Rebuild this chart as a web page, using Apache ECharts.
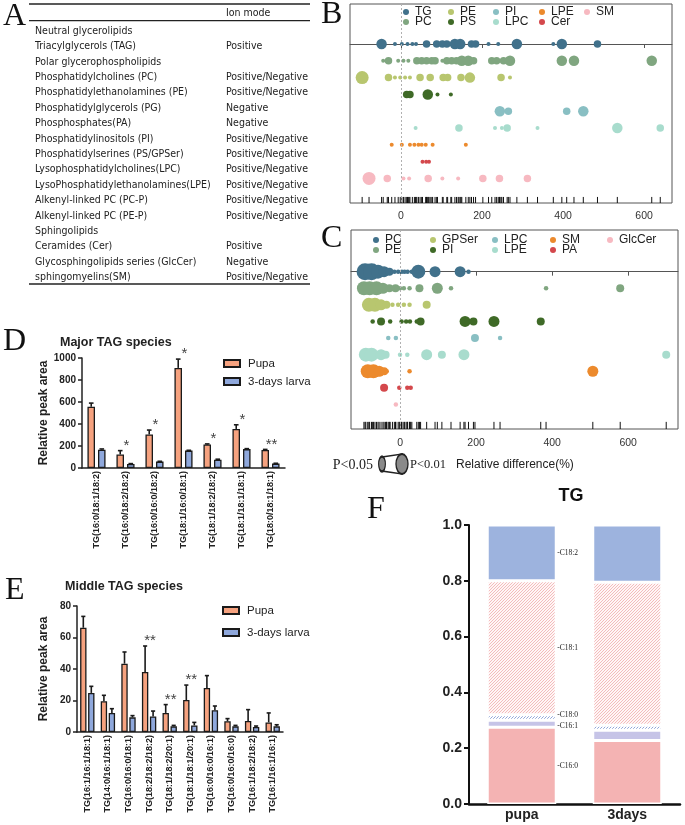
<!DOCTYPE html>
<html><head><meta charset="utf-8">
<script src="https://cdn.jsdelivr.net/npm/echarts@6/dist/echarts.min.js"></script>
<style>
html,body{margin:0;padding:0;background:#fff;}
#wrap{position:relative;width:685px;height:825px;overflow:hidden;}
.pane{position:absolute;left:0;top:0;width:685px;height:825px;}
</style></head><body>
<div id="wrap">
<div class="pane" id="pA"></div>
<div class="pane" id="pB"></div>
<div class="pane" id="pC"></div>
<div class="pane" id="pD"></div>
<div class="pane" id="pE"></div>
<div class="pane" id="pF"></div>
</div>
<script>
// ---------------- DATA ----------------
// Panel A table
const tableLipids = ['Neutral glycerolipids','Triacylglycerols (TAG)','Polar glycerophospholipids','Phosphatidylcholines (PC)','Phosphatidylethanolamines (PE)','Phosphatidylglycerols (PG)','Phosphosphates(PA)','Phosphatidylinositols (PI)','Phosphatidylserines (PS/GPSer)','Lysophosphatidylcholines(LPC)','LysoPhosphatidylethanolamines(LPE)','Alkenyl-linked PC (PC-P)','Alkenyl-linked PC (PE-P)','Sphingolipids','Ceramides (Cer)','Glycosphingolipids series (GlcCer)','sphingomyelins(SM)'];
const tableIonModes = ['','Positive','','Positive/Negative','Positive/Negative','Negative','Negative','Positive/Negative','Positive/Negative','Positive/Negative','Positive/Negative','Positive/Negative','Positive/Negative','','Positive','Negative','Positive/Negative'];

// Panel B: relative difference (%) and significance level (bubble class)
const classesB = ['TG','PC','PE','PS','PI','LPC','LPE','Cer','SM'];
const bTG  = [[-48,3],[-15,1],[2,1],[16,1],[28,1],[37,1],[63,2],[88,2],[102,2],[113,2],[133,3],[146,3],[174,2],[184,2],[216,1],[240,1],[286,3],[376,1],[397,3],[485,2]];
const bPC  = [[-44,1],[-31,2],[-7,1],[6,1],[18,1],[39,2],[51,2],[63,2],[76,2],[84,2],[102,1],[113,2],[125,2],[137,2],[150,3],[166,3],[179,2],[224,2],[236,2],[253,2],[269,3],[397,3],[427,3],[619,3]];
const bPE  = [[-96,4],[-31,2],[-15,1],[-2,1],[10,1],[22,1],[47,2],[72,2],[104,2],[115,2],[148,2],[170,3],[247,2],[269,1]];
const bPS  = [[14,2],[22,2],[66,3],[90,1],[123,1]];
const bPI  = [[244,3],[265,2],[409,2],[450,3]];
const bLPC = [[36,1],[143,2],[232,1],[249,1],[262,2],[337,1],[534,3],[640,2]];
const bLPE = [[-23,1],[2,1],[22,1],[33,1],[43,1],[51,1],[61,1],[78,1],[160,1]];
const bCer = [[53,1],[62,1],[69,1]];
const bSM  = [[-79,4],[-34,2],[6,1],[20,1],[67,2],[102,1],[141,1],[202,2],[243,2],[312,2]];

// Panel C
const classesC = ['PC','PE','GPSer','PI','LPC','LPE','SM','PA','GlcCer'];
const cPC    = [[-92,5],[-75,5],[-58,4],[-42,3],[-28,2],[-15,1],[-5,1],[5,1],[12,1],[20,1],[31,1],[48,4],[92,3],[158,3],[180,1]];
const cPE    = [[-95,4],[-80,4],[-62,4],[-45,3],[-28,2],[-12,2],[0,1],[10,1],[25,1],[51,2],[98,3],[134,1],[384,1],[579,2]];
const cGPSer = [[-82,4],[-66,4],[-50,3],[-36,2],[-20,1],[-5,1],[10,1],[25,1],[70,2]];
const cPI    = [[-72,1],[-50,2],[-26,1],[4,1],[16,1],[26,1],[44,1],[54,2],[171,3],[193,2],[247,3],[370,2]];
const cLPC   = [[-31,1],[-11,1],[197,2],[263,1]];
const cLPE   = [[-90,4],[-75,4],[-50,3],[-38,2],[0,1],[19,1],[70,3],[110,2],[168,3],[700,2]];
const cSM    = [[-85,4],[-70,4],[-55,3],[-42,2],[-35,1],[25,1],[507,3]];
const cPA    = [[-42,2],[-2,1],[19,1],[28,1]];
const cGlcCer= [[-11,1]];
const axisTicksBC = [0,200,400,600];

// Panel D
const dCats = ['TG(16:0/18:1/18:2)','TG(16:0/18:2/18:2)','TG(16:0/16:0/18:2)','TG(18:1/16:0/18:1)','TG(18:1/18:2/18:2)','TG(18:1/18:1/18:1)','TG(18:0/18:1/18:1)'];
const dPupa = [557,123,305,910,213,355,163];
const dPupaErr = [33,35,40,80,6,38,6];
const dLarva = [167,37,58,158,76,172,40];
const dLarvaErr = [6,3,3,3,4,4,3];
const dStars = ['','*','*','*','*','*','**'];

// Panel E
const eCats = ['TG(16:1/16:1/18:1)','TG(14:0/16:1/18:1)','TG(16:0/16:0/18:1)','TG(18:2/18:2/18:2)','TG(18:1/18:2/20:1)','TG(18:1/18:1/20:1)','TG(16:0/16:0/16:1)','TG(16:0/16:0/16:0)','TG(16:1/18:2/18:2)','TG(16:1/16:1/16:1)'];
const ePupa = [66.2,19.5,43.4,38.1,12.1,20.3,27.9,6.8,7.0,6.1];
const ePupaErr = [7.2,3.8,7.4,16.5,5.3,9.5,7.9,1.7,7.2,6.0];
const eLarva = [24.8,12.1,9.3,9.9,3.6,4.2,13.8,3.6,3.2,3.6];
const eLarvaErr = [4.2,2.7,1.1,3.4,0.6,1.9,2.7,0.6,0.6,1.0];
const eStars = ['','','','**','**','**','','','',''];

// Panel F
const fGroups = ['pupa','3days'];
const fC160 = [0.275,0.228];
const fC161 = [0.025,0.036];
const fC180 = [0.020,0.018];
const fC181 = [0.480,0.513];
const fC182 = [0.200,0.205];

// ---------------- STYLE ----------------
const SANS = "'Liberation Sans', Arial, Helvetica, sans-serif";
const SERIF = "'Liberation Serif', 'Times New Roman', serif";
const NARROW = "'Liberation Sans Narrow', 'Arial Narrow', 'Liberation Sans', sans-serif";
const TABLEF = "'DejaVu Sans Condensed', 'Liberation Sans', sans-serif";
const palette = ['#41718b','#80a680','#b8c66f','#3f6a27','#89bfc3','#a8dccd','#ec8a2d','#d4484c','#f7b9c1'];

function letter(t, x, y) {
  return {type:'text', left:x, top:y, style:{text:t, font:'32px ' + SERIF, fill:'#111'}};
}

// ---------------- PANEL A ----------------
(function(){
  const el = [];
  el.push(letter('A', 3, 1));
  el.push({type:'line', shape:{x1:29,y1:4,x2:310,y2:4}, style:{stroke:'#222', lineWidth:1.3}});
  el.push({type:'line', shape:{x1:29,y1:20.7,x2:310,y2:20.7}, style:{stroke:'#222', lineWidth:1.3}});
  el.push({type:'line', shape:{x1:29,y1:284,x2:310,y2:284}, style:{stroke:'#222', lineWidth:1.3}});
  el.push({type:'text', x:226, y:13, style:{text:'Ion mode', font:'10.5px ' + TABLEF, fill:'#222', verticalAlign:'middle'}});
  tableLipids.forEach((t,i)=>{
    const y = 31 + 15.4*i;
    el.push({type:'text', x:35, y:y, style:{text:t, font:'10.5px ' + TABLEF, fill:'#222', verticalAlign:'middle'}});
    if (tableIonModes[i]) el.push({type:'text', x:226, y:y, style:{text:tableIonModes[i], font:'10.5px ' + TABLEF, fill:'#222', verticalAlign:'middle'}});
  });
  echarts.init(document.getElementById('pA')).setOption({animation:false, graphic:el});
})();

// ---------------- PANELS B, C ----------------
function bubbleChart(id, cfg) {
  const ch = echarts.init(document.getElementById(id));
  const allVals = [];
  const series = cfg.classes.map((name,i)=>{
    cfg.points[i].forEach(p=>allVals.push(p[0]));
    return {
      type:'scatter', name:name,
      data: cfg.points[i].map(p=>[p[0], i, p[1]]),
      symbolSize: v => cfg.sizes[v[2]],
      itemStyle:{color:palette[i], opacity:1},
      emphasis:{disabled:true}, z:3
    };
  });
  const rug = Array.from(new Set(allVals)).sort((a,b)=>a-b);
  series.push({
    type:'custom', silent:true, z:2,
    data: rug.map(v=>[v, cfg.rugFrom]),
    encode:{x:0,y:1},
    renderItem:(params, api)=>{
      const a = api.coord([api.value(0), api.value(1)]);
      const b = api.coord([api.value(0), cfg.yMax]);
      return {type:'line', shape:{x1:a[0],y1:a[1],x2:b[0],y2:b[1]}, style:{stroke:'#111', lineWidth:1}};
    }
  });
  series.push({
    type:'line', data:[], silent:true,
    markLine:{silent:true, symbol:['none','none'], label:{show:false}, animation:false,
      lineStyle:{color:'#b0b0b0', type:[2,2], width:1}, data:[{xAxis:0}]}
  });
  const legends = cfg.legendPos.map(([name,x,y])=>({
    data:[name], left:x-3, top:y-7, icon:'circle', itemWidth:6, itemHeight:6, padding:0,
    selectedMode:false, textStyle:{fontSize:12, fontFamily:SANS, color:'#222', padding:[0,0,0,1]}
  }));
  ch.setOption({
    animation:false,
    grid:{left:cfg.grid[0], top:cfg.grid[1], width:cfg.grid[2], height:cfg.grid[3], show:true, borderColor:'#555', borderWidth:1, backgroundColor:'transparent'},
    xAxis:{type:'value', min:cfg.xMin, max:cfg.xMax,
      axisLine:{show:true, lineStyle:{color:'#555', width:1}},
      axisTick:{show:true, customValues:axisTicksBC, length:4, lineStyle:{color:'#555'}},
      axisLabel:{customValues:axisTicksBC, fontSize:10.5, color:'#333', fontFamily:SANS, margin:cfg.labelMargin},
      splitLine:{show:false}},
    yAxis:{type:'value', min:cfg.yMin, max:cfg.yMax, inverse:true, show:false},
    legend:legends,
    series:series,
    graphic:cfg.graphic
  });
}

const sizeMapB = {1:4, 2:7.5, 3:10.5, 4:13};
const sizeMapC = {1:4.5, 2:8, 3:11, 4:14, 5:17};

bubbleChart('pB', {
  classes: classesB,
  points: [bTG,bPC,bPE,bPS,bPI,bLPC,bLPE,bCer,bSM],
  sizes: sizeMapB,
  grid:[350,4,322,199], xMin:-126, xMax:669, yMin:-2.38, yMax:9.46, rugFrom:9.1, labelMargin:8,
  legendPos:[['TG',406,13],['PE',451,13],['PI',496,13],['LPE',542,13],['SM',587,13],
             ['PC',406,23],['PS',451,23],['LPC',496,23],['Cer',542,23]],
  graphic:[letter('B',321,-1)]
});

bubbleChart('pC', {
  classes: classesC,
  points: [cPC,cPE,cGPSer,cPI,cLPC,cLPE,cSM,cPA,cGlcCer],
  sizes: sizeMapC,
  grid:[351,230,327,199], xMin:-129, xMax:731, yMin:-2.51, yMax:9.48, rugFrom:9.05, labelMargin:9,
  legendPos:[['PC',376,241],['GPSer',433,241],['LPC',495,241],['SM',553,241],['GlcCer',610,241],
             ['PE',376,251],['PI',433,251],['LPE',495,251],['PA',553,251]],
  graphic:[
    letter('C',321,223),
    {type:'text', x:373, y:465, style:{text:'P<0.05', font:'14px ' + SERIF, fill:'#222', align:'right', verticalAlign:'middle'}},
    {type:'polygon', shape:{points:[[382,457],[402,454],[402,474],[382,471]]}, style:{fill:'#fff', stroke:'#222', lineWidth:1.5}},
    {type:'circle', x:382, y:464, scaleX:0.45, shape:{cx:0, cy:0, r:7.5}, style:{fill:'#8a8a8a', stroke:'#222', lineWidth:2.5}},
    {type:'circle', x:402, y:464, scaleX:0.6, shape:{cx:0, cy:0, r:10}, style:{fill:'#8a8a8a', stroke:'#222', lineWidth:2.2}},
    {type:'text', x:410, y:465, style:{text:'P<0.01', font:'12.5px ' + SERIF, fill:'#222', verticalAlign:'middle'}},
    {type:'text', x:456, y:465, style:{text:'Relative difference(%)', font:'12px ' + SANS, fill:'#222', verticalAlign:'middle'}}
  ]
});

// ---------------- PANELS D, E ----------------
function barChart(id, cfg) {
  const ch = echarts.init(document.getElementById(id));
  const off = cfg.bw*(1+cfg.gap)/2;
  const errData = [];
  cfg.pupa.forEach((v,i)=>errData.push([i, v, cfg.pupaErr[i], -1]));
  cfg.larva.forEach((v,i)=>errData.push([i, v, cfg.larvaErr[i], 1]));
  const starData = cfg.stars.map((s,i)=>[i, Math.max(cfg.pupa[i]+cfg.pupaErr[i], cfg.larva[i]+cfg.larvaErr[i]), s]).filter(d=>d[2]);
  ch.setOption({
    animation:false,
    title:{text:cfg.title, left:cfg.titlePos[0], top:cfg.titlePos[1], padding:0,
      textStyle:{fontSize:12.5, fontWeight:'bold', fontFamily:SANS, color:'#222'}},
    grid:{left:cfg.grid[0], top:cfg.grid[1], width:cfg.grid[2], height:cfg.grid[3]},
    legend:{data:['Pupa','3-days larva'], orient:'vertical', left:cfg.legendPos[0], top:cfg.legendPos[1], padding:0,
      itemWidth:16, itemHeight:7, itemGap:cfg.legendGap, selectedMode:false, icon:'rect',
      textStyle:{fontSize:11.5, fontFamily:SANS, color:'#222', padding:[0,0,0,3]}},
    xAxis:{type:'category', data:cfg.cats,
      axisLine:{lineStyle:{color:'#222', width:1.5}},
      axisTick:{show:false},
      axisLabel:{interval:0, rotate:90, fontSize:9, fontWeight:'bold', fontFamily:SANS, color:'#222', margin:3}},
    yAxis:{type:'value', min:0, max:cfg.yMax, interval:cfg.yInterval,
      name:'Relative peak area', nameLocation:'middle', nameRotate:90, nameGap:cfg.nameGap,
      nameTextStyle:{fontSize:12, fontWeight:'bold', fontFamily:SANS, color:'#222'},
      axisLine:{show:true, lineStyle:{color:'#222', width:1.5}},
      axisTick:{show:true, length:4, lineStyle:{color:'#222', width:1.5}},
      axisLabel:{fontSize:10, fontWeight:'bold', fontFamily:SANS, color:'#222', margin:6, formatter:v=>String(v)},
      splitLine:{show:false}},
    series:[
      {type:'bar', name:'Pupa', data:cfg.pupa, barWidth:(cfg.bw*100)+'%', barGap:(cfg.gap*100)+'%',
        itemStyle:{color:'#f6a27f', borderColor:'#1a1a1a', borderWidth:1.3}, emphasis:{disabled:true}},
      {type:'bar', name:'3-days larva', data:cfg.larva, barWidth:(cfg.bw*100)+'%', barGap:(cfg.gap*100)+'%',
        itemStyle:{color:'#8fa8dc', borderColor:'#1a1a1a', borderWidth:1.3}, emphasis:{disabled:true}},
      {type:'custom', silent:true, data:errData, encode:{x:0, y:1}, z:4,
        renderItem:(params, api)=>{
          const i = api.value(0), v = api.value(1), e = api.value(2), side = api.value(3);
          const w = api.size([1,0])[0];
          const x = api.coord([i,0])[0] + side*off*w;
          const y1 = api.coord([i,v])[1], y2 = api.coord([i,v+e])[1];
          const cw = cfg.cap*w;
          return {type:'group', children:[
            {type:'line', shape:{x1:x,y1:y1,x2:x,y2:y2}, style:{stroke:'#1a1a1a', lineWidth:1.6}},
            {type:'line', shape:{x1:x-cw,y1:y2,x2:x+cw,y2:y2}, style:{stroke:'#1a1a1a', lineWidth:1.6}}
          ]};
        }},
      {type:'custom', silent:true, data:starData, encode:{x:0, y:1}, z:5,
        renderItem:(params, api)=>{
          const p = api.coord([api.value(0), api.value(1)]);
          return {type:'text', x:p[0]+1, y:p[1]-5, style:{text:cfg.stars[api.value(0)], font:'15px ' + SANS, fill:'#444', align:'center', verticalAlign:'middle'}};
        }}
    ],
    graphic:[letter(cfg.letter, cfg.letterPos[0], cfg.letterPos[1])]
  });
}

barChart('pD', {
  cats:dCats, pupa:dPupa, pupaErr:dPupaErr, larva:dLarva, larvaErr:dLarvaErr, stars:dStars,
  title:'Major TAG species', titlePos:[60,336], grid:[82,358,203,110], yMax:1000, yInterval:200,
  nameGap:32, legendPos:[223,357.5], legendGap:6, bw:0.26, gap:0.4, cap:0.08,
  letter:'D', letterPos:[3,326]
});

barChart('pE', {
  cats:eCats, pupa:ePupa, pupaErr:ePupaErr, larva:eLarva, larvaErr:eLarvaErr, stars:eStars,
  title:'Middle TAG species', titlePos:[65,580], grid:[77,606,206,126], yMax:80, yInterval:20,
  nameGap:27, legendPos:[222,604.5], legendGap:10, bw:0.31, gap:0.25, cap:0.1,
  letter:'E', letterPos:[5,575]
});

// ---------------- PANEL F ----------------
function hatch(bg, fg, sp, lw) {
  const c = document.createElement('canvas'); c.width = sp; c.height = sp;
  const g = c.getContext('2d'); g.fillStyle = bg; g.fillRect(0,0,sp,sp);
  g.strokeStyle = fg; g.lineWidth = lw; g.beginPath();
  g.moveTo(0, sp); g.lineTo(sp, 0);
  g.moveTo(-sp, sp); g.lineTo(sp, -sp);
  g.moveTo(0, 2*sp); g.lineTo(2*sp, 0);
  g.stroke(); return c;
}
(function(){
  const ch = echarts.init(document.getElementById('pF'));
  const segs = [
    ['C16:0', fC160, '#f4b3b3', [0,0]],
    ['C16:1', fC161, '#c6c4e7', [0,2]],
    ['C18:0', fC180, {image:hatch('#ffffff','#8fa4d8',3,1), repeat:'repeat'}, [0,-2]],
    ['C18:1', fC181, {image:hatch('#fff6f6','#f2b6b6',3,0.9), repeat:'repeat'}, [0,0]],
    ['C18:2', fC182, '#9db3de', [0,0]]
  ];
  const series = segs.map(([name, vals, col, lo])=>({
    type:'bar', name:name, stack:'tg', barWidth:69,
    data: vals.map((v,i)=> i===0 ? {value:v, label:{show:true, offset:lo}} : v),
    itemStyle:{color:col, borderColor:'#ffffff', borderWidth:1.5},
    emphasis:{disabled:true},
    label:{show:false, position:'right', distance:1, formatter:'-'+name, fontSize:7.5, fontFamily:SERIF, color:'#222'}
  }));
  ch.setOption({
    animation:false,
    grid:{left:469, top:525, width:211, height:279},
    xAxis:{type:'category', data:fGroups,
      axisLine:{lineStyle:{color:'#111', width:2.5}}, axisTick:{show:false},
      axisLabel:{fontSize:14, fontWeight:'bold', fontFamily:NARROW, color:'#222', margin:4}},
    yAxis:{type:'value', min:0, max:1, interval:0.2,
      axisLine:{show:true, lineStyle:{color:'#111', width:2}},
      axisTick:{show:true, length:5, lineStyle:{color:'#111', width:2}},
      axisLabel:{fontSize:14, fontWeight:'bold', fontFamily:NARROW, color:'#222', margin:7, formatter:v=>v.toFixed(1)},
      splitLine:{show:false}},
    series:series,
    graphic:[
      letter('F', 367, 494),
      {type:'text', x:571, y:496, style:{text:'TG', font:'bold 18px ' + NARROW, fill:'#111', align:'center', verticalAlign:'middle'}}
    ]
  });
})();
</script>
</body></html>
